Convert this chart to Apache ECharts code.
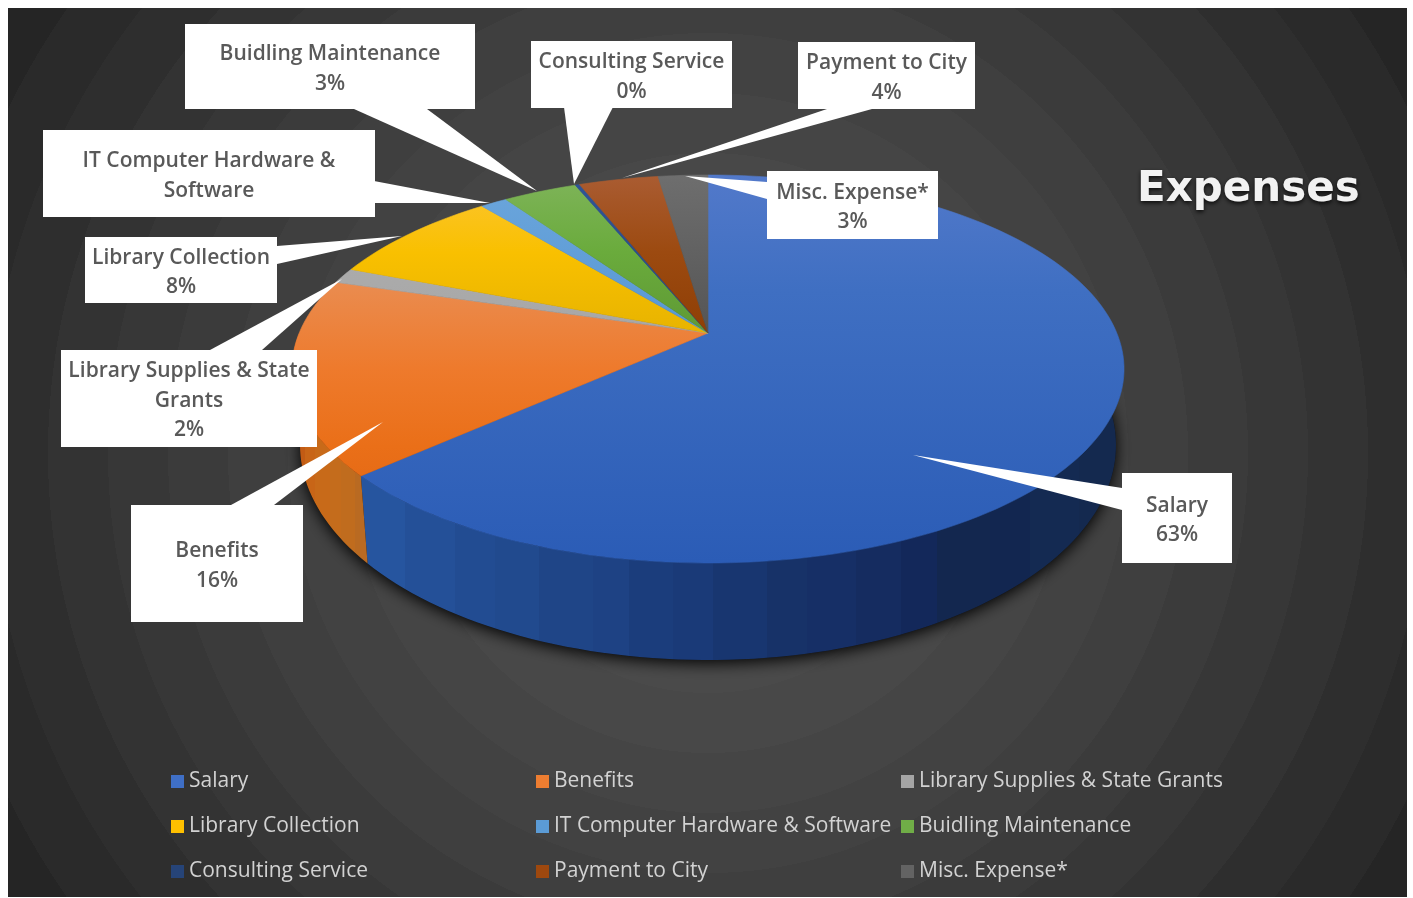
<!DOCTYPE html>
<html><head><meta charset="utf-8">
<style>html,body{margin:0;padding:0;background:#fff}#c{width:1413px;height:898px}</style>
<script src="https://cdn.jsdelivr.net/npm/echarts@6/dist/echarts.min.js"></script></head>
<body><div id="c"></div>
<script>
// ---------- data ----------
const categories = ['Salary','Benefits','Library Supplies & State Grants','Library Collection','IT Computer Hardware & Software','Buidling Maintenance','Consulting Service','Payment to City','Misc. Expense*'];
const expenseShares = [63.35, 16.25, 1.3, 8.2, 1.25, 3.44, 0.2, 3.7, 2.31];
const labelNames = ['Salary','Benefits','Library Supplies & State\nGrants','Library Collection','IT Computer Hardware &\nSoftware','Buidling Maintenance','Consulting Service','Payment to City','Misc. Expense*'];
const labelPercents = ['63%','16%','2%','8%','','3%','0%','4%','3%'];
const legendColumns = [[0,3,6],[1,4,7],[2,5,8]];
const legendLeft = [171,536,901];

// ---------- styles ----------
const legendColors = ['#3f6fc6','#ed7d31','#a5a5a5','#ffc000','#5b9bd5','#70ad47','#264478','#9e480e','#636363'];
const topStops = [
 [[0,'#5279ca'],[.3,'#3f6fc2'],[1,'#2b5cb6']],
 [[0,'#f09a6a'],[.3,'#ea8a4c'],[.5,'#ee7a2c'],[.7,'#ea6f18'],[1,'#dc6210']],
 [[0,'#b0b0b0'],[.5,'#a5a5a5'],[1,'#999']],
 [[0,'#fcc535'],[.2,'#f9c000'],[.4,'#e8b400'],[1,'#dca900']],
 [[0,'#6ca6dc'],[.4,'#5898d4'],[1,'#4c88c4']],
 [[0,'#7fb45a'],[.2,'#6aab3c'],[.4,'#5f9a35'],[1,'#5a9030']],
 [[0,'#2f5597'],[1,'#203864']],
 [[0,'#aa5c32'],[.2,'#9c4a10'],[.4,'#8f3f06'],[1,'#853a05']],
 [[0,'#6e6e6e'],[.4,'#555555'],[1,'#505050']]
];
// stepped wall shading (right to left): each entry [offset, colour]
const salaryWallBands = ['#14294f','#142a52','#122650','#13274f','#13285a','#152c60','#162f66','#173268','#183670','#1a3a78','#1b3d7c','#1e4284','#1f4587','#214a8e','#224c92','#245098','#26559f'];
const benefitsWallBands = ['#b96a22','#c06c1e','#c46c1c','#c86a19','#c86517','#c25b14'];
function stepped(colors){
  const out=[]; const w=[1,1.1,.9,1.2,.8,1,1.1,.9,1.2,.9,1,.8,1.2,1,.9,1.1,1].slice(0,colors.length);
  const s=w.reduce((a,b)=>a+b,0); let c=0;
  colors.forEach((col,i)=>{out.push([c/s,col]); c+=w[i]; out.push([c/s,col]);});
  return out;
}
const wallStops = {0:stepped(salaryWallBands),1:stepped(benefitsWallBands)};
const callouts = [
 {box:[1122,473,110,90], tip:[913,455], base:[[1122,488],[1122,510]]},
 {box:[131,505,172,117], tip:[383,422], base:[[231,505],[274,505]]},
 {box:[61,350,256,97], tip:[342,279], base:[[210,350],[262,350]]},
 {box:[85,237,192,66], tip:[402,236], base:[[277,246],[277,264]]},
 {box:[43,130,332,87], tip:[490,203], base:[[374,181],[374,203]]},
 {box:[185,24,290,85], tip:[537,191], base:[[354,109],[427,109]]},
 {box:[531,41,201,67], tip:[574,184], base:[[564,107],[613,107]]},
 {box:[798,42,177,67], tip:[622,178], base:[[827,109],[872,109]]},
 {box:[767,171,171,68], tip:[685,176], base:[[767,182],[767,199]]}
];
const UI_FONT = '"Open Sans","Noto Sans",sans-serif';

// ---------- perspective disc ----------
const K = 0.1856;
const topDisc = {x:708, y:333, a:408.8, b:187.3};
const lowDisc = {x:708, y:405.1, a:400.9, b:207.6};
function rim(d, deg){
  const t = deg*Math.PI/180, u = Math.sin(t), v = Math.cos(t), w = 1+K*v;
  return [d.x + d.a*u/w, d.y - d.b*v/w];
}
const total = expenseShares.reduce((s,v)=>s+v,0);
const starts = []; { let c=0; expenseShares.forEach(v=>{starts.push(c/total*360); c+=v;}); }
function arc(d,a0,a1){
  const n = Math.max(2,Math.ceil(Math.abs(a1-a0)/1.5)), out=[];
  for(let i=0;i<=n;i++) out.push(rim(d,a0+(a1-a0)*i/n));
  return out;
}
function grad(stops,x,y,x2,y2){
  return {type:'linear',global:true,x,y,x2,y2,colorStops:stops.map(s=>({offset:s[0],color:s[1]}))};
}
function renderSlice(i){
  return function(){
    const a0 = starts[i], a1 = a0 + expenseShares[i]/total*360, kids=[];
    const w0 = Math.max(a0,90), w1 = Math.min(a1,270);
    if(w1>w0 && wallStops[i]){
      const pts = arc(topDisc,w0,w1).concat(arc(lowDisc,w0,w1).reverse());
      const xs = pts.map(p=>p[0]);
      kids.push({type:'polygon',shape:{points:pts},
        style:{fill:grad(wallStops[i],Math.max.apply(null,xs),0,Math.min.apply(null,xs),0)}});
    }
    const f = grad(topStops[i],0,175,0,563);
    kids.push({type:'polygon',z2:5,shape:{points:[[topDisc.x,topDisc.y]].concat(arc(topDisc,a0,a1))},
      style:{fill:f,stroke:f,lineWidth:.6}});
    return {type:'group',children:kids};
  };
}
function renderCallout(params){
  const i = params.dataIndex, c = callouts[i], b = c.box;
  const txt = labelNames[i] + (labelPercents[i] ? '\n'+labelPercents[i] : '');
  return {type:'group',children:[
    {type:'polygon',shape:{points:[c.tip,c.base[0],c.base[1]]},style:{fill:'#fff'}},
    {type:'rect',shape:{x:b[0],y:b[1],width:b[2],height:b[3]},style:{fill:'#fff'}},
    {type:'text',z2:3,style:{text:txt,x:b[0]+b[2]/2,y:b[1]+b[3]/2+2.5,align:'center',verticalAlign:'middle',
      fontFamily:UI_FONT,fontSize:21,fontWeight:600,lineHeight:29.5,fill:'#595959'}}
  ]};
}
function renderBase(){
  return {type:'polygon',shape:{points:arc(lowDisc,0,360)},
    style:{fill:'#111',shadowBlur:16,shadowColor:'rgba(0,0,0,1)',shadowOffsetY:3}};
}

// ---------- banded radial background ----------
const bgColors = ['#505050','#4e4e4e','#4c4c4c','#4a4a4a','#484848','#454545','#424242','#3f3f3f','#3b3b3b','#373737','#333333','#2e2e2e','#2a2a2a','#252525'];
const bgStops = [];
bgColors.forEach((c,i)=>{bgStops.push({offset:i/bgColors.length,color:c});bgStops.push({offset:(i+1)/bgColors.length,color:c});});

const series = [
 {type:'custom',name:'Base',coordinateSystem:'none',z:1,silent:true,data:[0],renderItem:renderBase}
];
categories.forEach((n,i)=>series.push({
  type:'custom',name:n,coordinateSystem:'none',z:2,silent:true,
  itemStyle:{color:legendColors[i]},data:[expenseShares[i]],renderItem:renderSlice(i)
}));
series.push({type:'custom',name:'Labels',coordinateSystem:'none',z:6,silent:true,data:categories.map((n,i)=>expenseShares[i]),renderItem:renderCallout});

const legends = legendColumns.map((col,i)=>({
  orient:'vertical',left:legendLeft[i],top:771,icon:'rect',itemWidth:13,itemHeight:13,itemGap:24,selectedMode:false,
  padding:0,data:col.map(j=>categories[j]),
  textStyle:{color:'#d2d2d2',fontFamily:UI_FONT,fontSize:21}
}));

const chart = echarts.init(document.getElementById('c'),null,{renderer:'canvas'});
chart.setOption({
  animation:false,
  backgroundColor:'#fff',
  title:{text:'Expenses',left:1137,top:169,padding:0,
    textStyle:{color:'#f2f2f2',fontFamily:'"DejaVu Sans",sans-serif',fontWeight:'bold',fontSize:42,
      textShadowColor:'rgba(0,0,0,.8)',textShadowBlur:4,textShadowOffsetY:2}},
  legend:legends,
  graphic:{elements:[{type:'rect',z:-10,silent:true,shape:{x:8,y:8,width:1399,height:889},
    style:{fill:{type:'radial',global:true,x:708,y:453,r:840,colorStops:bgStops}}}]},
  series:series
});
</script></body></html>
